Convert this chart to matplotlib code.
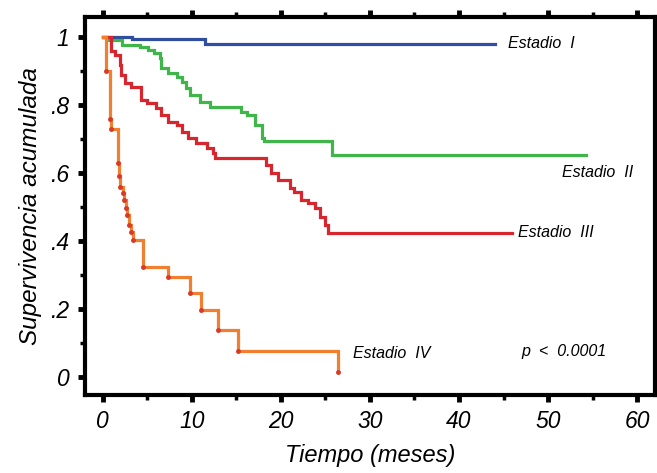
import matplotlib
matplotlib.use("Agg")
import matplotlib.pyplot as plt
import numpy as np
from matplotlib.ticker import MultipleLocator, FixedLocator

# Kaplan-Meier steps: time (months) of each drop, survival after it
t_I = [0, 3.3, 11.5]
s_I = [1.0, 0.993, 0.98]
end_I = 44

t_II = [0, 0.5, 2.2, 4.2, 5.1, 5.8, 6.4, 6.6, 7.3, 8.3, 8.9, 9.4, 9.8, 10.9, 12.0,
        15.5, 16.2, 17.1, 17.9, 18.1, 25.7]
s_II = [1.0, 0.99, 0.976, 0.97, 0.962, 0.953, 0.938, 0.909, 0.894, 0.882, 0.868, 0.85,
        0.829, 0.809, 0.794, 0.78, 0.77, 0.74, 0.703, 0.694, 0.653]
end_II = 54.2

t_III = [0, 1.0, 1.4, 1.9, 2.1, 2.5, 3.2, 4.3, 5.0, 6.0, 6.6, 7.3, 8.3, 8.9, 9.6, 10.5,
         11.7, 12.4, 12.6, 18.3, 18.9, 19.7, 21.0, 21.5, 22.3, 23.0, 23.8, 24.4, 25.0, 25.3]
s_III = [1.0, 0.96, 0.947, 0.918, 0.888, 0.865, 0.853, 0.815, 0.806, 0.79, 0.77, 0.75,
         0.741, 0.72, 0.703, 0.688, 0.674, 0.659, 0.644, 0.624, 0.60, 0.579, 0.556, 0.544,
         0.52, 0.512, 0.497, 0.47, 0.447, 0.424]
end_III = 46

t_IV = [0, 0.4, 0.8, 1.0, 1.7, 1.8, 2.0, 2.3, 2.4, 2.6, 2.7, 3.0, 3.2, 3.4, 4.5, 7.3,
        9.8, 11.1, 12.9, 15.2, 26.4]
s_IV = [1.0, 0.90, 0.76, 0.73, 0.63, 0.59, 0.56, 0.54, 0.52, 0.497, 0.476, 0.447, 0.426,
        0.403, 0.324, 0.294, 0.247, 0.197, 0.138, 0.076, 0.015]
end_IV = 26.4

etiquetas = ["Estadio  I", "Estadio  II", "Estadio  III", "Estadio  IV"]
xticks = [0, 10, 20, 30, 40, 50, 60]
yticks = [0, 0.2, 0.4, 0.6, 0.8, 1.0]
ytick_labels = ["0", ".2", ".4", ".6", ".8", "1"]

plt.rcParams['font.family'] = ['Liberation Sans', 'DejaVu Sans']

fig = plt.figure(figsize=(6.57, 4.73), dpi=100)
ax = fig.add_axes([0.129, 0.165, 0.868, 0.799])


def km(ax, t, s, end, color, marks=None):
    tt = list(t) + [end]
    ss = list(s) + [s[-1]]
    ax.plot(tt, ss, drawstyle='steps-post', color=color, lw=2.3, solid_joinstyle='miter')
    if marks:
        ax.plot(t[1:], s[1:], linestyle='', marker='o', ms=2.5, color=marks)


km(ax, t_I, s_I, end_I, '#2f4f9e')
km(ax, t_II, s_II, end_II, '#3fb54a')
km(ax, t_III, s_III, end_III, '#d8262f')
km(ax, t_IV, s_IV, end_IV, '#f0802f', marks='#d83a2a')

ax.text(45.5, 0.98, etiquetas[0], fontsize=11.5, style='italic', va='center')
ax.text(51.6, 0.603, etiquetas[1], fontsize=11.5, style='italic', va='center')
ax.text(46.6, 0.426, etiquetas[2], fontsize=11.5, style='italic', va='center')
ax.text(28.1, 0.068, etiquetas[3], fontsize=11.5, style='italic', va='center')
ax.text(47.0, 0.074, "p  <  0.0001", fontsize=11.5, style='italic', va='center')

ax.set_xlim(-2.0, 62.0)
ax.set_ylim(-0.053, 1.059)
ax.set_xticks(xticks)
ax.set_xticklabels([str(v) for v in xticks], fontsize=16.5, style='italic')
ax.set_yticks(yticks)
ax.set_yticklabels(ytick_labels, fontsize=16.5, style='italic')
ax.xaxis.set_minor_locator(MultipleLocator(5))
ax.yaxis.set_minor_locator(MultipleLocator(0.1))

for sp in ax.spines.values():
    sp.set_linewidth(3)
ax.tick_params(which='major', direction='out', length=5, width=3.5, top=True, right=False, pad=6)
ax.tick_params(which='minor', direction='out', length=3.5, width=2.5, top=True, right=False)

ax.set_xlabel("Tiempo (meses)", fontsize=17, style='italic', labelpad=8)
ax.set_ylabel("Supervivencia acumulada", fontsize=17.5, style='italic', labelpad=6)

fig.savefig("out.png", dpi=100)
